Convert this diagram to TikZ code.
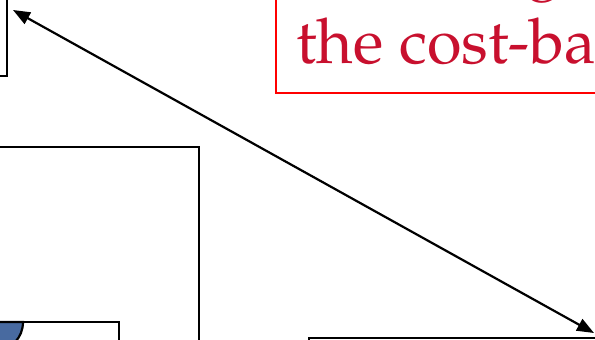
\documentclass[tikz,border=0pt]{standalone}
\usepackage[T1]{fontenc}
\usepackage{xcolor}
\usetikzlibrary{calc, positioning}
\usetikzlibrary{arrows.meta}

\definecolor{costred}{RGB}{200,16,46}
\definecolor{boxred}{RGB}{255,0,0}
\definecolor{capblue}{RGB}{72,106,160}

\begin{document}
\begin{tikzpicture}[
    x=1pt,
    y=-1pt,
    box/.style={draw=black, line width=2.2pt},
    link/.style={line width=2.2pt, {Triangle[length=17pt,width=13pt]}-{Triangle[length=17pt,width=13pt]}},
    bigtext/.style={text=costred, inner sep=0pt, font=\fontfamily{ppl}\fontsize{63}{75}\selectfont}
]
\useasboundingbox (0,0) rectangle (595,340);
\clip (0,0) rectangle (595,340);

% Boxes cut by the frame
\draw[box] (-120,-40) rectangle (7,76);
\draw[box] (-200,147) rectangle (199,400);
\draw[box] (-80,322) rectangle (119,400);
\draw[box] (309,338) rectangle (700,420);

% Half ellipse on the small box
\filldraw[box, fill=capblue] (23,322) arc[start angle=0, end angle=180, x radius=26, y radius=28] -- cycle;

% Red caption
\draw[line width=2.2pt, draw=boxred] (276,-40) rectangle (700,93);
\node[bigtext, anchor=base west] (gtail) at (526,-15) {g};
\node[bigtext, anchor=base west] (caption) at (296,63) {the cost-ba};

% Double arrow
\coordinate (leftend) at (13,10);
\coordinate (rightend) at (594,333);
\draw[link] (leftend) -- (rightend);
\end{tikzpicture}
\end{document}
